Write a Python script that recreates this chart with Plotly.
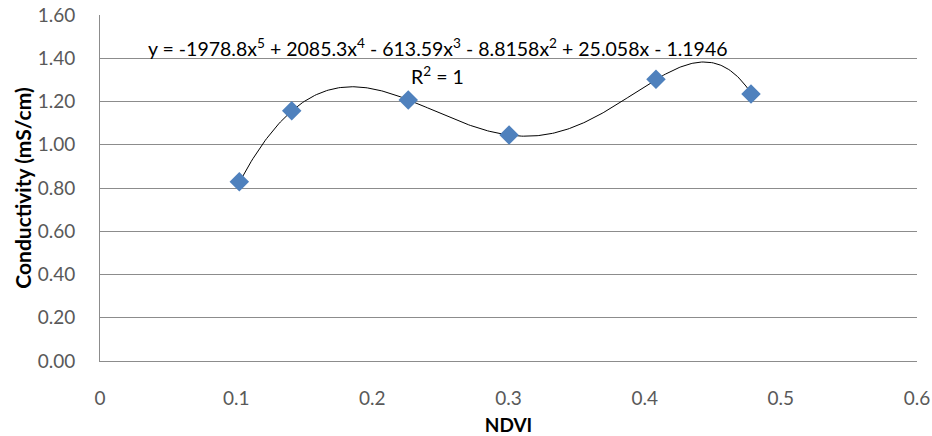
import numpy as np
import plotly.graph_objects as go

# Measured samples
ndvi = [0.1023, 0.1408, 0.2264, 0.3004, 0.4083, 0.4781]
conductivity = [0.829, 1.157, 1.207, 1.045, 1.303, 1.235]

# Fifth-order polynomial trendline coefficients (highest power first)
coeffs = [-1978.8, 2085.3, -613.59, -8.8158, 25.058, -1.1946]
r_squared = 1

x_ticks = [0, 0.1, 0.2, 0.3, 0.4, 0.5, 0.6]
y_ticks = [0.0, 0.2, 0.4, 0.6, 0.8, 1.0, 1.2, 1.4, 1.6]

xs = np.linspace(min(ndvi), max(ndvi), 300)
ys = np.polyval(coeffs, xs)

font_family = "Lato, 'Open Sans', sans-serif"
grid_color = "#8c8c8c"

fig = go.Figure()
fig.add_trace(go.Scatter(
    x=xs, y=ys, mode="lines",
    line=dict(color="#000000", width=1),
    hoverinfo="skip", showlegend=False,
))
fig.add_trace(go.Scatter(
    x=ndvi, y=conductivity, mode="markers",
    marker=dict(symbol="diamond", size=15, color="#4F81BD",
                line=dict(width=0)),
    showlegend=False,
))

def term(c, p, first=False):
    mag = f"{abs(c):g}"
    sign = "-" if c < 0 else "+"
    if p == 0:
        body = mag
    elif p == 1:
        body = f"{mag}x"
    else:
        body = f"{mag}x<sup>{p}</sup>"
    if first:
        return ("-" if c < 0 else "") + body
    return f" {sign} {body}"

deg = len(coeffs) - 1
eq = "y = " + "".join(term(c, deg - i, i == 0) for i, c in enumerate(coeffs))

fig.add_annotation(x=0.2479, y=1.452, xref="x", yref="y", text=eq,
                   showarrow=False, font=dict(size=19.5, color="#000000",
                                              family=font_family))
fig.add_annotation(x=0.248, y=1.318, xref="x", yref="y",
                   text=f"R<sup>2</sup> = {r_squared}",
                   showarrow=False, font=dict(size=19.5, color="#000000",
                                              family=font_family))

fig.update_layout(
    width=932, height=436,
    margin=dict(l=100, r=15, t=15, b=75),
    paper_bgcolor="white", plot_bgcolor="white",
    font=dict(family=font_family, color="#595959", size=19),
)
fig.update_xaxes(
    range=[0, 0.6], tickvals=x_ticks,
    ticktext=[f"{v:g}" for v in x_ticks],
    showgrid=False, zeroline=False, automargin=False,
    showline=True, linecolor=grid_color, linewidth=1,
    ticks="", ticklabelstandoff=20,
    title=dict(text="<b>NDVI</b>", font=dict(size=19, color="#000000"),
               standoff=14),
)
fig.update_yaxes(
    range=[0, 1.6], tickvals=y_ticks,
    ticktext=[f"{v:.2f}" for v in y_ticks],
    showgrid=True, gridcolor=grid_color, gridwidth=1, zeroline=False,
    automargin=False,
    showline=True, linecolor=grid_color, linewidth=1,
    ticks="", ticklabelstandoff=20,
    title=dict(text="<b>Conductivity (mS/cm)</b>",
               font=dict(size=21, color="#000000"), standoff=0),
)

fig.write_html("out.html")
